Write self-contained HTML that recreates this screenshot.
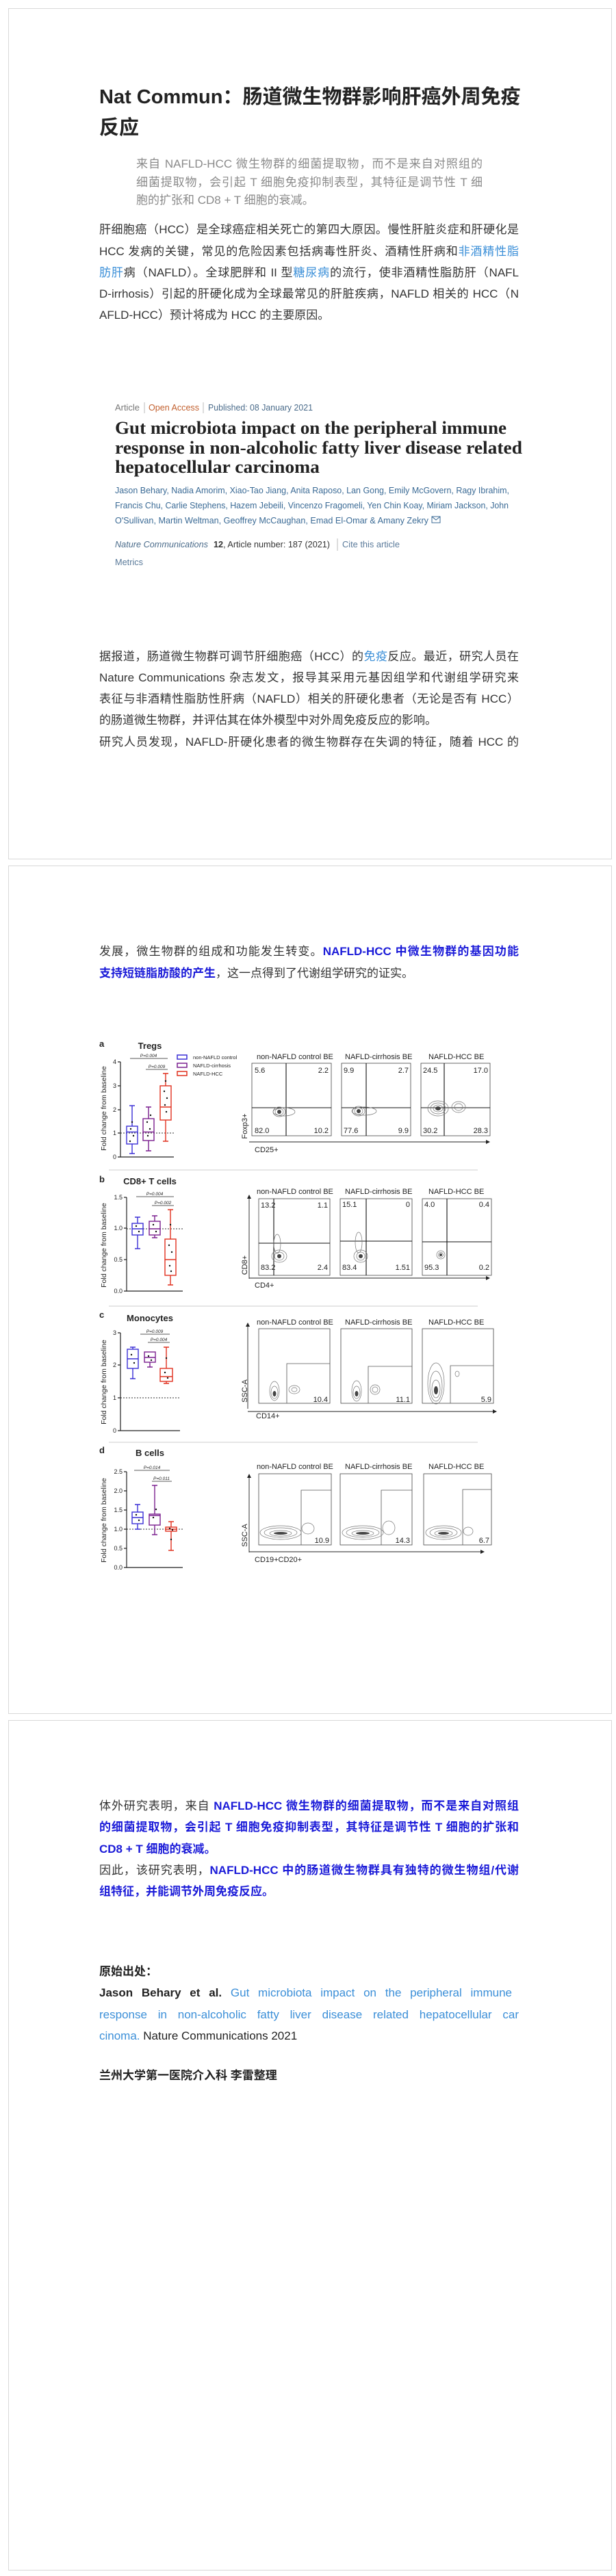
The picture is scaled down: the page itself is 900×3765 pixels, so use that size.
<!DOCTYPE html>
<html><head><meta charset="utf-8">
<style>
html,body{margin:0;padding:0;background:#fff;}
body{width:900px;height:3765px;position:relative;overflow:hidden;font-family:"Liberation Sans","Noto Sans CJK SC",sans-serif;color:#333;}
.card{position:absolute;left:12px;width:880px;border:1px solid #d8d8d8;background:#fff;}
.ln{position:absolute;left:145px;width:613px;height:31px;line-height:31px;font-size:17px;white-space:nowrap;text-align:justify;text-align-last:justify;color:#333;}
.l{text-align-last:left;}
.q{left:199px;width:506px;color:#8a8a8a;font-size:17px;height:27px;line-height:27px;}
.t{font-size:29px;height:45px;line-height:45px;color:#222;font-weight:bold;}
.lb{color:#3b8fd8;}
.b{color:#1a1ad8;font-weight:bold;}
.bd{font-weight:bold;color:#222;}
</style></head><body>
<div class="card" style="top:12px;height:1242px"></div>
<div class="card" style="top:1265px;height:1238px"></div>
<div class="card" style="top:2514px;height:1241px"></div>

<div class="ln t" style="top:120px">Nat Commun：肠道微生物群影响肝癌外周免疫</div>
<div class="ln t l" style="top:165px">反应</div>

<div class="ln q" style="top:226px">来自 NAFLD-HCC 微生物群的细菌提取物，而不是来自对照组的</div>
<div class="ln q" style="top:253px">细菌提取物，会引起 T 细胞免疫抑制表型，其特征是调节性 T 细</div>
<div class="ln q l" style="top:279px">胞的扩张和 CD8 + T 细胞的衰减。</div>

<div class="ln" style="top:320px">肝细胞癌（HCC）是全球癌症相关死亡的第四大原因。慢性肝脏炎症和肝硬化是</div>
<div class="ln" style="top:352px">HCC 发病的关键，常见的危险因素包括病毒性肝炎、酒精性肝病和<span class="lb">非酒精性脂</span></div>
<div class="ln" style="top:383px"><span class="lb">肪肝</span>病（NAFLD）。全球肥胖和 II 型<span class="lb">糖尿病</span>的流行，使非酒精性脂肪肝（NAFL</div>
<div class="ln" style="top:414px">D-irrhosis）引起的肝硬化成为全球最常见的肝脏疾病，NAFLD 相关的 HCC（N</div>
<div class="ln l" style="top:445px">AFLD-HCC）预计将成为 HCC 的主要原因。</div>

<svg style="position:absolute;left:0;top:0" width="900" height="3765" xmlns="http://www.w3.org/2000/svg" font-family="Liberation Sans, sans-serif">
<!-- article header -->
<g font-size="13">
<text x="168" y="600" fill="#777" textLength="36" lengthAdjust="spacingAndGlyphs">Article</text>
<line x1="211" y1="588" x2="211" y2="604" stroke="#bbb"/>
<text x="217" y="600" fill="#c2602f" textLength="74" lengthAdjust="spacingAndGlyphs">Open Access</text>
<line x1="297" y1="588" x2="297" y2="604" stroke="#bbb"/>
<text x="304" y="600" fill="#4a6b8a" textLength="153" lengthAdjust="spacingAndGlyphs">Published: 08 January 2021</text>
</g>
<g font-family="Liberation Serif, serif" font-weight="bold" font-size="26" fill="#222">
<text x="168" y="634" textLength="572" lengthAdjust="spacingAndGlyphs">Gut microbiota impact on the peripheral immune</text>
<text x="168" y="663" textLength="595" lengthAdjust="spacingAndGlyphs">response in non-alcoholic fatty liver disease related</text>
<text x="168" y="691" textLength="299" lengthAdjust="spacingAndGlyphs">hepatocellular carcinoma</text>
</g>
<g font-size="13" fill="#3a6a95">
<text x="168" y="721" textLength="576" lengthAdjust="spacingAndGlyphs">Jason Behary, Nadia Amorim, Xiao-Tao Jiang, Anita Raposo, Lan Gong, Emily McGovern, Ragy Ibrahim,</text>
<text x="168" y="743" textLength="575" lengthAdjust="spacingAndGlyphs">Francis Chu, Carlie Stephens, Hazem Jebeili, Vincenzo Fragomeli, Yen Chin Koay, Miriam Jackson, John</text>
<text x="168" y="765" textLength="458" lengthAdjust="spacingAndGlyphs">O'Sullivan, Martin Weltman, Geoffrey McCaughan, Emad El-Omar &amp; Amany Zekry</text>
<rect x="631" y="755" width="12" height="9" fill="none" stroke="#3a6a95"/><path d="M631,755 L637,760 L643,755" fill="none" stroke="#3a6a95"/>
<text x="168" y="800" font-style="italic" fill="#4a6b8a" textLength="136" lengthAdjust="spacingAndGlyphs">Nature Communications</text>
<text x="312" y="800" fill="#333" textLength="170" lengthAdjust="spacingAndGlyphs"><tspan font-weight="bold">12</tspan>, Article number: 187 (2021)</text>
<line x1="493" y1="787" x2="493" y2="805" stroke="#bbb"/>
<text x="500" y="800" fill="#5a7a9a" textLength="84" lengthAdjust="spacingAndGlyphs">Cite this article</text>
<text x="168" y="826" fill="#5a7a9a" textLength="41" lengthAdjust="spacingAndGlyphs">Metrics</text>
</g>

<!-- FIGURE -->
<g font-size="11" fill="#222">
<!-- separators -->
<g stroke="#ccc" stroke-width="1">
<line x1="159" y1="1710" x2="698" y2="1710"/><line x1="159" y1="1909" x2="698" y2="1909"/><line x1="159" y1="2108" x2="698" y2="2108"/>
</g>
<!-- panel labels -->
<g font-weight="bold" font-size="13">
<text x="145" y="1530">a</text><text x="145" y="1728">b</text><text x="145" y="1926">c</text><text x="145" y="2124">d</text>
<text x="219" y="1533" text-anchor="middle">Tregs</text>
<text x="219" y="1731" text-anchor="middle">CD8+ T cells</text>
<text x="219" y="1931" text-anchor="middle">Monocytes</text>
<text x="219" y="2128" text-anchor="middle">B cells</text>
</g>
<!-- y labels -->
<g font-size="10.5">
<text transform="translate(155,1620) rotate(-90)" text-anchor="middle">Fold change from baseline</text>
<text transform="translate(155,1820) rotate(-90)" text-anchor="middle">Fold change from baseline</text>
<text transform="translate(155,2020) rotate(-90)" text-anchor="middle">Fold change from baseline</text>
<text transform="translate(155,2222) rotate(-90)" text-anchor="middle">Fold change from baseline</text>
</g>
<!-- axes -->
<g stroke="#222" stroke-width="1.2" fill="none">
<path d="M176,1552 V1691 H254"/><path d="M172,1552h4M172,1587h4M172,1622h4M172,1656h4M172,1691h4"/>
<path d="M185,1750 V1887 H267"/><path d="M181,1750h4M181,1795h4M181,1841h4M181,1887h4"/>
<path d="M176,1948 V2091 H263"/><path d="M172,1948h4M172,1995h4M172,2043h4M172,2091h4"/>
<path d="M185,2151 V2291 H267"/><path d="M181,2151h4M181,2179h4M181,2207h4M181,2235h4M181,2263h4M181,2291h4"/>
</g>
<g font-size="9" text-anchor="end">
<text x="170" y="1555">4</text><text x="170" y="1590">3</text><text x="170" y="1625">2</text><text x="170" y="1659">1</text><text x="170" y="1694">0</text>
<text x="179" y="1753">1.5</text><text x="179" y="1798">1.0</text><text x="179" y="1844">0.5</text><text x="179" y="1890">0.0</text>
<text x="170" y="1951">3</text><text x="170" y="1998">2</text><text x="170" y="2046">1</text><text x="170" y="2094">0</text>
<text x="179" y="2154">2.5</text><text x="179" y="2182">2.0</text><text x="179" y="2210">1.5</text><text x="179" y="2238">1.0</text><text x="179" y="2266">0.5</text><text x="179" y="2294">0.0</text>
</g>
<!-- dotted baselines -->
<g stroke="#333" stroke-dasharray="2,2" stroke-width="1">
<line x1="176" y1="1656" x2="254" y2="1656"/><line x1="185" y1="1796" x2="267" y2="1796"/>
<line x1="176" y1="2043" x2="263" y2="2043"/><line x1="185" y1="2235" x2="267" y2="2235"/>
</g>
<!-- P lines -->
<g stroke="#222" stroke-width="0.8">
<line x1="190" y1="1547" x2="245" y2="1547"/><line x1="213" y1="1563" x2="245" y2="1563"/>
<line x1="199" y1="1749" x2="254" y2="1749"/><line x1="222" y1="1762" x2="254" y2="1762"/>
<line x1="205" y1="1950" x2="248" y2="1950"/><line x1="216" y1="1962" x2="248" y2="1962"/>
<line x1="196" y1="2149" x2="248" y2="2149"/><line x1="222" y1="2165" x2="251" y2="2165"/>
</g>
<g font-size="6.5" font-style="italic" text-anchor="middle">
<text x="217" y="1545">P=0.004</text><text x="229" y="1561">P=0.009</text>
<text x="226" y="1747">P=0.004</text><text x="238" y="1760">P=0.002</text>
<text x="226" y="1948">P=0.009</text><text x="232" y="1960">P=0.004</text>
<text x="222" y="2147">P=0.014</text><text x="236" y="2163">P=0.011</text>
</g>
<!-- legend -->
<g fill="none" stroke-width="1.5">
<rect x="259" y="1542" width="14" height="6" stroke="#3a2fd6"/>
<rect x="259" y="1554" width="14" height="6" stroke="#7a1f8f"/>
<rect x="259" y="1566" width="14" height="6" stroke="#e0301e"/>
</g>
<g font-size="7.5"><text x="282" y="1548">non-NAFLD control</text><text x="282" y="1560">NAFLD-cirrhosis</text><text x="282" y="1572">NAFLD-HCC</text></g>
<!-- boxplots -->
<g fill="none" stroke-width="1.4">
<g stroke="#3a2fd6"><rect x="185" y="1646" width="16" height="26"/><path d="M185,1654.5h16M193,1646V1616M193,1672V1686M189,1616h8M189,1686h8"/></g>
<g stroke="#7a1f8f"><rect x="209" y="1635" width="16" height="32"/><path d="M209,1654.5h16M217,1635V1618M217,1667V1682M213,1618h8M213,1682h8"/></g>
<g stroke="#e0301e"><rect x="234" y="1587" width="16" height="50"/><path d="M234,1618h16M242,1587V1569M242,1637V1668M238,1569h8M238,1668h8"/></g>

<g stroke="#3a2fd6"><rect x="193" y="1788" width="16" height="17"/><path d="M193,1796h16M201,1788V1779M201,1805V1825M197,1779h8M197,1825h8"/></g>
<g stroke="#7a1f8f"><rect x="218" y="1785" width="16" height="20"/><path d="M218,1796h16M226,1785V1777M226,1805V1809M222,1777h8M222,1809h8"/></g>
<g stroke="#e0301e"><rect x="241" y="1811" width="16" height="53"/><path d="M241,1841h16M249,1811V1768M249,1864V1878M245,1768h8M245,1878h8"/></g>

<g stroke="#3a2fd6"><rect x="186" y="1972" width="16" height="28"/><path d="M186,1986h16M194,1972V1969M194,2000V2015M190,1969h8M190,2015h8"/></g>
<g stroke="#7a1f8f"><rect x="211" y="1976" width="16" height="15"/><path d="M211,1984h16M219,1991V1998M215,1998h8"/></g>
<g stroke="#e0301e"><rect x="234" y="2000" width="18" height="19"/><path d="M234,2012h18M243,2000V1969M243,2019V2022M239,1969h8M239,2022h8"/></g>

<g stroke="#3a2fd6"><rect x="193" y="2210" width="16" height="17"/><path d="M193,2218h16M201,2210V2199M201,2227V2235M197,2199h8M197,2235h8"/></g>
<g stroke="#7a1f8f"><rect x="218" y="2213" width="16" height="16"/><path d="M218,2215h16M226,2213V2171M226,2229V2243M222,2171h8M222,2243h8"/></g>
<g stroke="#e0301e"><rect x="242" y="2232" width="16" height="6"/><path d="M242,2235h16M250,2232V2224M250,2238V2266M246,2224h8M246,2266h8"/></g>
</g>
<g fill="#111">
<circle cx="191" cy="1650" r="1.2"/><circle cx="195" cy="1660" r="1.2"/><circle cx="193" cy="1640" r="1.2"/><circle cx="190" cy="1668" r="1.2"/>
<circle cx="215" cy="1640" r="1.2"/><circle cx="219" cy="1650" r="1.2"/><circle cx="216" cy="1660" r="1.2"/><circle cx="220" cy="1630" r="1.2"/>
<circle cx="240" cy="1595" r="1.2"/><circle cx="244" cy="1605" r="1.2"/><circle cx="241" cy="1615" r="1.2"/><circle cx="243" cy="1625" r="1.2"/><circle cx="242" cy="1580" r="1.2"/>
<circle cx="199" cy="1792" r="1.2"/><circle cx="203" cy="1800" r="1.2"/><circle cx="224" cy="1790" r="1.2"/><circle cx="228" cy="1800" r="1.2"/>
<circle cx="247" cy="1820" r="1.2"/><circle cx="251" cy="1830" r="1.2"/><circle cx="248" cy="1850" r="1.2"/><circle cx="250" cy="1858" r="1.2"/><circle cx="249" cy="1790" r="1.2"/>
<circle cx="192" cy="1980" r="1.2"/><circle cx="196" cy="1992" r="1.2"/><circle cx="217" cy="1982" r="1.2"/><circle cx="221" cy="1988" r="1.2"/>
<circle cx="241" cy="2006" r="1.2"/><circle cx="245" cy="2014" r="1.2"/><circle cx="243" cy="1985" r="1.2"/>
<circle cx="199" cy="2214" r="1.2"/><circle cx="203" cy="2222" r="1.2"/><circle cx="224" cy="2218" r="1.2"/><circle cx="228" cy="2206" r="1.2"/>
<circle cx="248" cy="2234" r="1.2"/><circle cx="252" cy="2236" r="1.2"/><circle cx="250" cy="2250" r="1.2"/>
</g>

<!-- flow titles -->
<g font-size="11">
<text x="375" y="1548">non-NAFLD control BE</text><text x="504" y="1548">NAFLD-cirrhosis BE</text><text x="626" y="1548">NAFLD-HCC BE</text>
<text x="375" y="1745">non-NAFLD control BE</text><text x="504" y="1745">NAFLD-cirrhosis BE</text><text x="626" y="1745">NAFLD-HCC BE</text>
<text x="375" y="1936">non-NAFLD control BE</text><text x="504" y="1936">NAFLD-cirrhosis BE</text><text x="626" y="1936">NAFLD-HCC BE</text>
<text x="375" y="2147">non-NAFLD control BE</text><text x="504" y="2147">NAFLD-cirrhosis BE</text><text x="626" y="2147">NAFLD-HCC BE</text>
</g>
<!-- flow boxes -->
<g fill="none" stroke="#444" stroke-width="0.8">
<rect x="368" y="1554" width="116" height="106"/><rect x="499" y="1554" width="101" height="106"/><rect x="615" y="1554" width="101" height="106"/>
<rect x="378" y="1752" width="104" height="112"/><rect x="497" y="1752" width="105" height="112"/><rect x="617" y="1752" width="101" height="112"/>
<rect x="378" y="1942" width="104" height="109"/><rect x="498" y="1942" width="104" height="109"/><rect x="617" y="1942" width="104" height="109"/>
<rect x="378" y="2154" width="106" height="104"/><rect x="497" y="2154" width="105" height="104"/><rect x="619" y="2154" width="99" height="104"/>
</g>
<g stroke="#111" stroke-width="1.1" fill="none">
<path d="M418,1554V1660M368,1619H484M535,1554V1660M499,1619H600M649,1554V1660M615,1619H716"/>
<path d="M400,1752V1864M378,1817H482M535,1752V1864M497,1814H602M653,1752V1864M617,1815H718"/>
</g>
<g stroke="#555" stroke-width="0.8" fill="none">
<path d="M419,2051V1993H482M538,2051V1997H602M658,2051V1996H721"/>
<path d="M440,2258V2178H484M557,2258V2178H602M676,2258V2177H718"/>
</g>
<!-- contours -->
<g fill="none" stroke="#777" stroke-width="0.7">
<ellipse cx="408" cy="1625" rx="9" ry="7"/><ellipse cx="408" cy="1625" rx="6" ry="5"/><ellipse cx="415" cy="1625" rx="16" ry="6"/>
<ellipse cx="524" cy="1624" rx="9" ry="7"/><ellipse cx="524" cy="1624" rx="6" ry="5"/><ellipse cx="532" cy="1624" rx="18" ry="6"/>
<ellipse cx="640" cy="1620" rx="15" ry="11"/><ellipse cx="640" cy="1620" rx="11" ry="8"/><ellipse cx="640" cy="1620" rx="7" ry="5"/><ellipse cx="670" cy="1618" rx="10" ry="8"/><ellipse cx="670" cy="1618" rx="6" ry="5"/>
<ellipse cx="408" cy="1836" rx="11" ry="9"/><ellipse cx="408" cy="1836" rx="7" ry="6"/><ellipse cx="405" cy="1818" rx="5" ry="14"/>
<ellipse cx="527" cy="1836" rx="10" ry="9"/><ellipse cx="527" cy="1836" rx="6" ry="6"/><ellipse cx="524" cy="1816" rx="5" ry="15"/>
<ellipse cx="644" cy="1834" rx="6" ry="6"/><ellipse cx="644" cy="1834" rx="3.5" ry="3.5"/>
<ellipse cx="401" cy="2033" rx="7" ry="14"/><ellipse cx="401" cy="2035" rx="5" ry="9"/><ellipse cx="430" cy="2031" rx="8" ry="6"/><ellipse cx="430" cy="2031" rx="4" ry="3"/>
<ellipse cx="521" cy="2033" rx="7" ry="15"/><ellipse cx="521" cy="2035" rx="5" ry="9"/><ellipse cx="548" cy="2031" rx="7" ry="7"/><ellipse cx="548" cy="2031" rx="4" ry="4"/>
<ellipse cx="637" cy="2022" rx="12" ry="30"/><ellipse cx="637" cy="2026" rx="9" ry="22"/><ellipse cx="637" cy="2030" rx="6" ry="13"/><ellipse cx="668" cy="2008" rx="3" ry="4"/>
<ellipse cx="410" cy="2240" rx="30" ry="10"/><ellipse cx="410" cy="2240" rx="24" ry="7"/><ellipse cx="410" cy="2241" rx="16" ry="4"/><ellipse cx="450" cy="2234" rx="9" ry="8"/>
<ellipse cx="530" cy="2240" rx="30" ry="10"/><ellipse cx="530" cy="2240" rx="24" ry="7"/><ellipse cx="530" cy="2241" rx="16" ry="4"/><ellipse cx="568" cy="2233" rx="9" ry="10"/>
<ellipse cx="648" cy="2240" rx="26" ry="10"/><ellipse cx="648" cy="2240" rx="20" ry="7"/><ellipse cx="648" cy="2241" rx="13" ry="4"/><ellipse cx="684" cy="2238" rx="7" ry="6"/>
</g>
<g fill="#444">
<ellipse cx="408" cy="1625" rx="3" ry="3"/><ellipse cx="524" cy="1624" rx="3" ry="3"/><ellipse cx="640" cy="1620" rx="4" ry="3"/>
<ellipse cx="408" cy="1836" rx="3" ry="3"/><ellipse cx="527" cy="1836" rx="3" ry="3"/><ellipse cx="644" cy="1834" rx="2" ry="2"/>
<ellipse cx="401" cy="2037" rx="2.5" ry="4"/><ellipse cx="521" cy="2037" rx="2.5" ry="4"/><ellipse cx="637" cy="2032" rx="3" ry="6"/>
<ellipse cx="410" cy="2241" rx="10" ry="2"/><ellipse cx="530" cy="2241" rx="10" ry="2"/><ellipse cx="648" cy="2241" rx="8" ry="2"/>
</g>
<!-- numbers -->
<g font-size="11">
<text x="372" y="1568">5.6</text><text x="480" y="1568" text-anchor="end">2.2</text><text x="372" y="1656">82.0</text><text x="480" y="1656" text-anchor="end">10.2</text>
<text x="502" y="1568">9.9</text><text x="597" y="1568" text-anchor="end">2.7</text><text x="502" y="1656">77.6</text><text x="597" y="1656" text-anchor="end">9.9</text>
<text x="618" y="1568">24.5</text><text x="713" y="1568" text-anchor="end">17.0</text><text x="618" y="1656">30.2</text><text x="713" y="1656" text-anchor="end">28.3</text>
<text x="381" y="1765">13.2</text><text x="479" y="1765" text-anchor="end">1.1</text><text x="381" y="1856">83.2</text><text x="479" y="1856" text-anchor="end">2.4</text>
<text x="500" y="1764">15.1</text><text x="599" y="1764" text-anchor="end">0</text><text x="500" y="1856">83.4</text><text x="599" y="1856" text-anchor="end">1.51</text>
<text x="620" y="1764">4.0</text><text x="715" y="1764" text-anchor="end">0.4</text><text x="620" y="1856">95.3</text><text x="715" y="1856" text-anchor="end">0.2</text>
<text x="479" y="2049" text-anchor="end">10.4</text><text x="599" y="2049" text-anchor="end">11.1</text><text x="718" y="2049" text-anchor="end">5.9</text>
<text x="481" y="2255" text-anchor="end">10.9</text><text x="599" y="2255" text-anchor="end">14.3</text><text x="715" y="2255" text-anchor="end">6.7</text>
</g>
<!-- flow axes -->
<g stroke="#222" stroke-width="0.9" fill="none">
<path d="M364,1669H712"/><path d="M364,1869V1750M364,1868H712"/><path d="M362,2059V1937M362,2063H722"/><path d="M364,2269V2158M364,2268H704"/>
</g>
<g fill="#222">
<path d="M716,1669l-6,-3v6z"/><path d="M716,1868l-6,-3v6z"/><path d="M364,1746l-3,6h6z"/>
<path d="M726,2063l-6,-3v6z"/><path d="M362,1933l-3,6h6z"/><path d="M708,2268l-6,-3v6z"/><path d="M364,2154l-3,6h6z"/>
</g>
<g font-size="11">
<text transform="translate(361,1646) rotate(-90)" text-anchor="middle">Foxp3+</text><text x="372" y="1684">CD25+</text>
<text transform="translate(361,1849) rotate(-90)" text-anchor="middle">CD8+</text><text x="372" y="1882">CD4+</text>
<text transform="translate(361,2033) rotate(-90)" text-anchor="middle">SSC-A</text><text x="374" y="2073">CD14+</text>
<text transform="translate(361,2244) rotate(-90)" text-anchor="middle">SSC-A</text><text x="372" y="2283">CD19+CD20+</text>
</g>
</g>
</svg>

<div class="ln" style="top:944px">据报道，肠道微生物群可调节肝细胞癌（HCC）的<span class="lb">免疫</span>反应。最近，研究人员在</div>
<div class="ln" style="top:975px">Nature Communications 杂志发文，报导其采用元基因组学和代谢组学研究来</div>
<div class="ln" style="top:1006px">表征与非酒精性脂肪性肝病（NAFLD）相关的肝硬化患者（无论是否有 HCC）</div>
<div class="ln l" style="top:1037px">的肠道微生物群，并评估其在体外模型中对外周免疫反应的影响。</div>
<div class="ln" style="top:1069px">研究人员发现，NAFLD-肝硬化患者的微生物群存在失调的特征，随着 HCC 的</div>

<div class="ln" style="top:1375px">发展，微生物群的组成和功能发生转变。<span class="b">NAFLD-HCC 中微生物群的基因功能</span></div>
<div class="ln l" style="top:1407px"><span class="b">支持短链脂肪酸的产生</span>，这一点得到了代谢组学研究的证实。</div>

<div class="ln" style="top:2624px">体外研究表明，来自 <span class="b">NAFLD-HCC 微生物群的细菌提取物，而不是来自对照组</span></div>
<div class="ln" style="top:2655px"><span class="b">的细菌提取物，会引起 T 细胞免疫抑制表型，其特征是调节性 T 细胞的扩张和</span></div>
<div class="ln l" style="top:2687px"><span class="b">CD8 + T 细胞的衰减。</span></div>
<div class="ln" style="top:2718px">因此，该研究表明，<span class="b">NAFLD-HCC 中的肠道微生物群具有独特的微生物组/代谢</span></div>
<div class="ln l" style="top:2749px"><span class="b">组特征，并能调节外周免疫反应。</span></div>

<div class="ln l bd" style="top:2866px">原始出处：</div>
<div class="ln" style="top:2897px;width:603px"><span class="bd">Jason Behary et al.</span> <span class="lb">Gut microbiota impact on the peripheral immune</span></div>
<div class="ln" style="top:2929px"><span class="lb">response in non-alcoholic fatty liver disease related hepatocellular car</span></div>
<div class="ln l" style="top:2960px"><span class="lb">cinoma.</span> <span class="bd" style="font-weight:normal;color:#222">Nature Communications 2021</span></div>
<div class="ln l bd" style="top:3018px">兰州大学第一医院介入科 李雷整理</div>
</body></html>
